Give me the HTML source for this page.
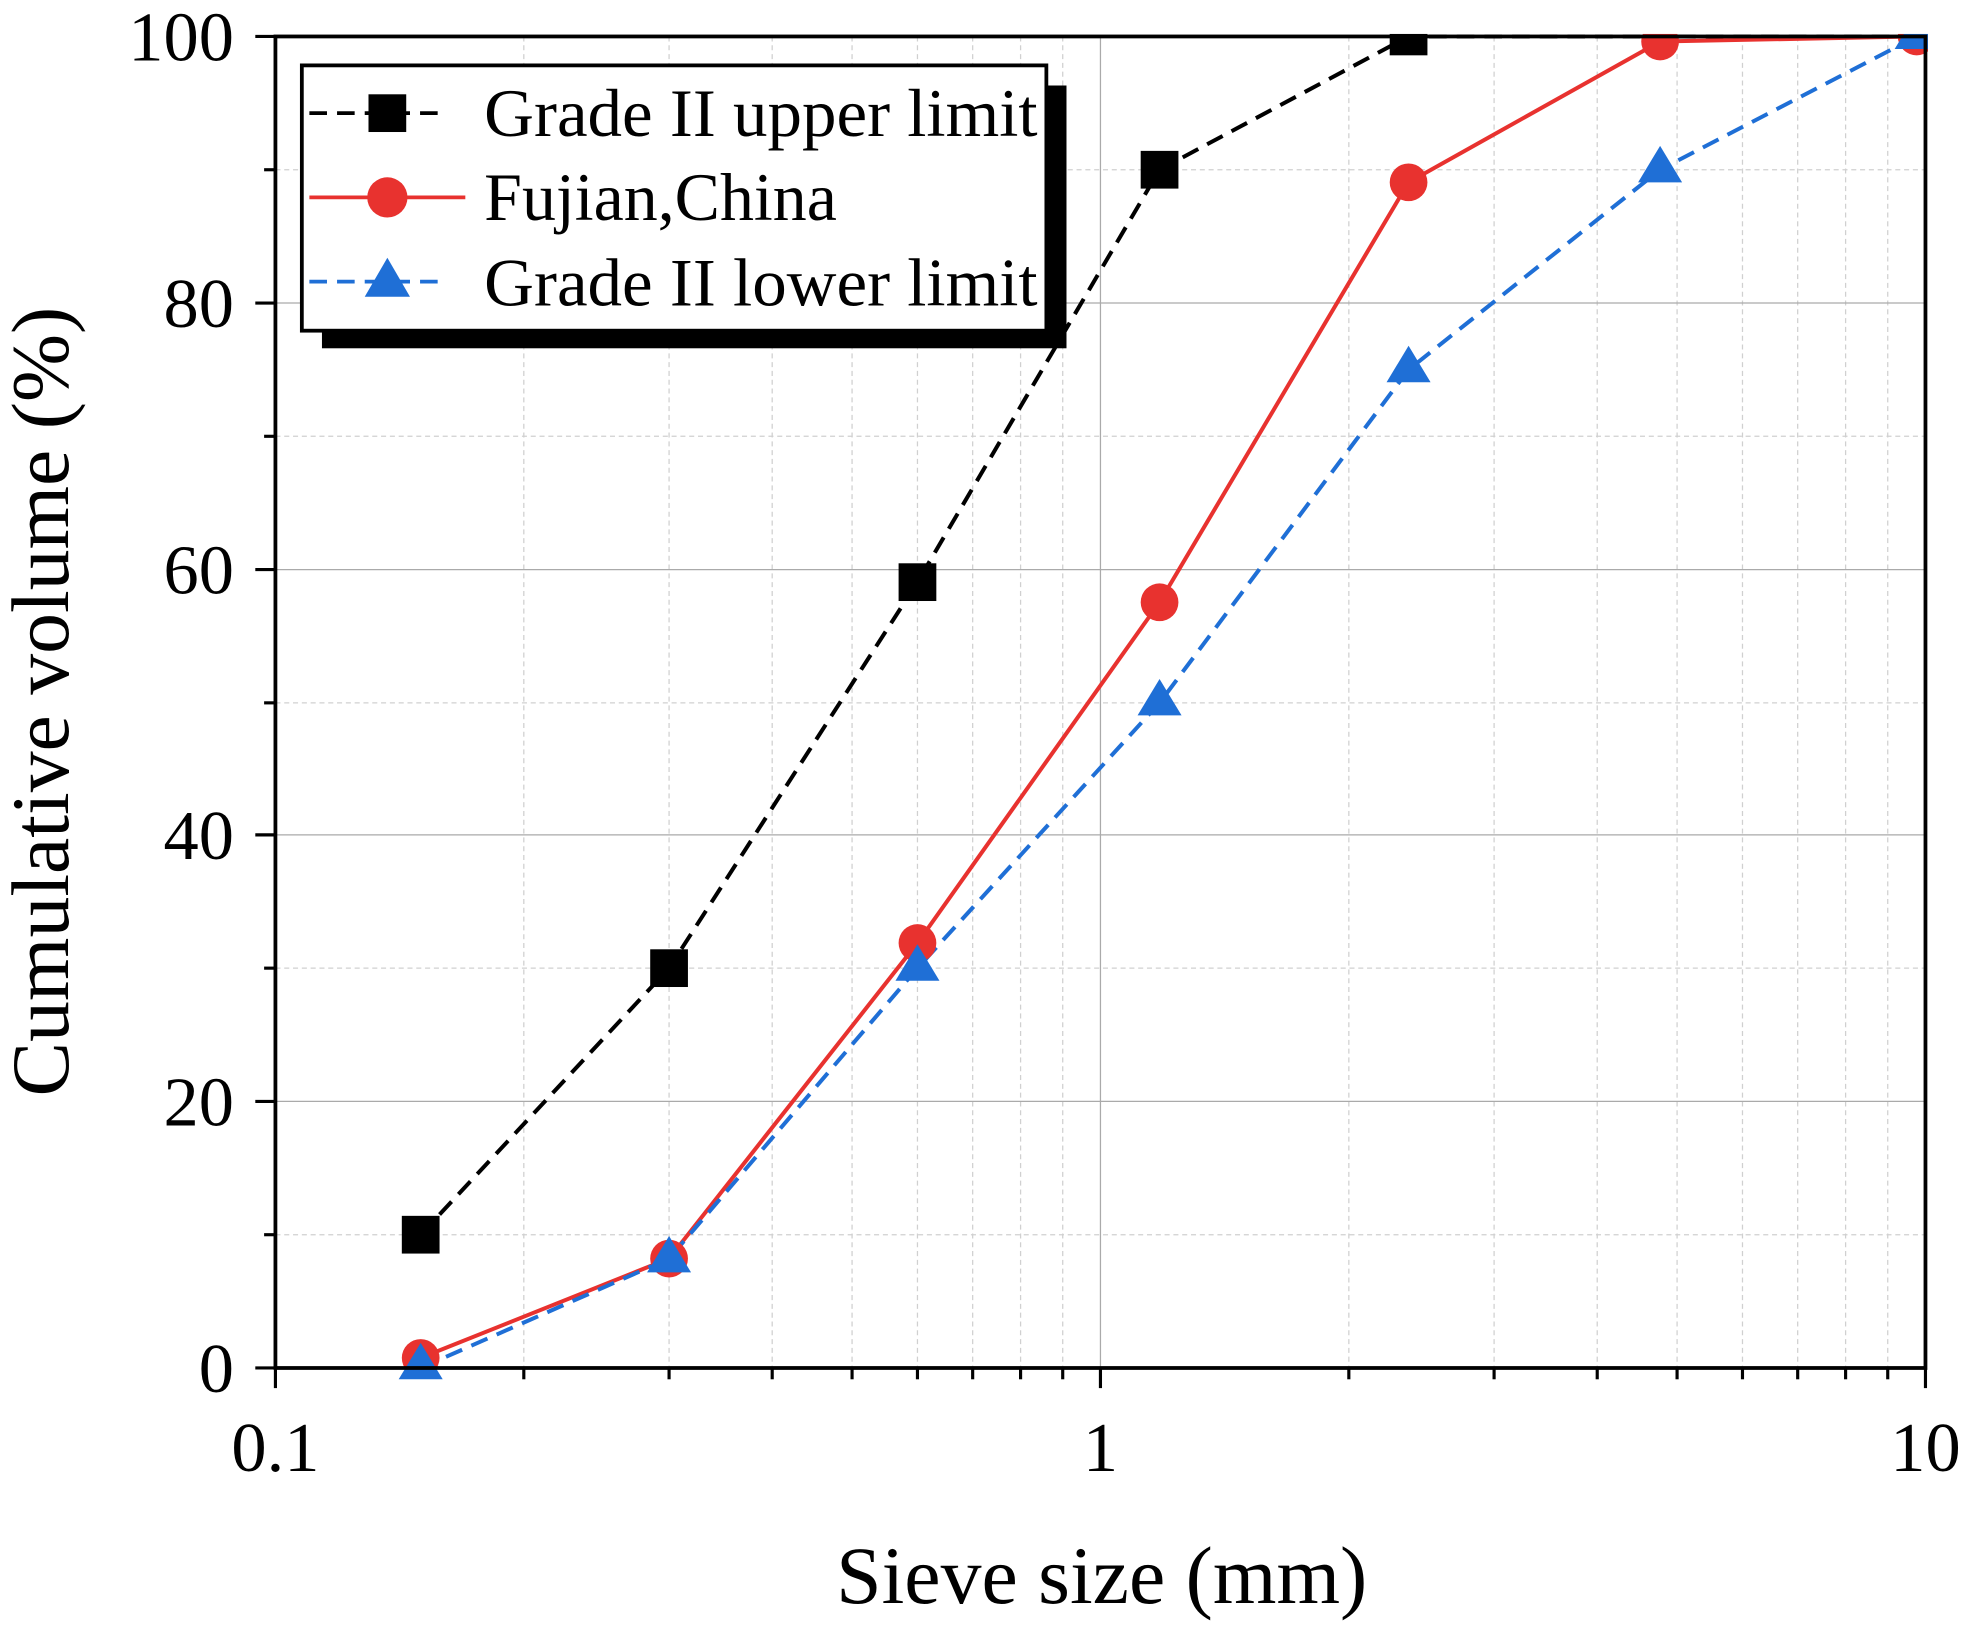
<!DOCTYPE html>
<html><head><style>html,body{margin:0;padding:0;background:#fff;}svg{display:block}</style></head>
<body>
<svg width="1972" height="1627" viewBox="0 0 1568 1294" preserveAspectRatio="none" xmlns="http://www.w3.org/2000/svg" font-family="Liberation Serif, serif">
<rect width="1568" height="1294" fill="#fff"/>
<g id="grid">
<g stroke="#d0d0d0" stroke-width="1" stroke-dasharray="4,3">
<line x1="219" x2="1531" y1="982" y2="982"/><line x1="219" x2="1531" y1="770" y2="770"/><line x1="219" x2="1531" y1="559" y2="559"/><line x1="219" x2="1531" y1="347" y2="347"/><line x1="219" x2="1531" y1="135" y2="135"/>
<line x1="416.5" x2="416.5" y1="29" y2="1088"/><line x1="532" x2="532" y1="29" y2="1088"/><line x1="614" x2="614" y1="29" y2="1088"/><line x1="677.5" x2="677.5" y1="29" y2="1088"/><line x1="729.5" x2="729.5" y1="29" y2="1088"/><line x1="773.4" x2="773.4" y1="29" y2="1088"/><line x1="811.5" x2="811.5" y1="29" y2="1088"/><line x1="845" x2="845" y1="29" y2="1088"/>
<line x1="1072.5" x2="1072.5" y1="29" y2="1088"/><line x1="1188" x2="1188" y1="29" y2="1088"/><line x1="1270" x2="1270" y1="29" y2="1088"/><line x1="1333.5" x2="1333.5" y1="29" y2="1088"/><line x1="1385.5" x2="1385.5" y1="29" y2="1088"/><line x1="1429.4" x2="1429.4" y1="29" y2="1088"/><line x1="1467.5" x2="1467.5" y1="29" y2="1088"/><line x1="1501" x2="1501" y1="29" y2="1088"/>
</g>
<g stroke="#aaa" stroke-width="1">
<line x1="219" x2="1531" y1="876" y2="876"/><line x1="219" x2="1531" y1="664" y2="664"/><line x1="219" x2="1531" y1="453" y2="453"/><line x1="219" x2="1531" y1="241" y2="241"/>
<line x1="875" x2="875" y1="29" y2="1088"/>
</g>
</g>
<polyline fill="none" stroke="#000" stroke-width="3.2" stroke-dasharray="14,8" points="334.5,982 532,770 729.5,463 922,135 1120,29 1320,29 1531,29"/>
<polyline fill="none" stroke="#e8322f" stroke-width="3.2" points="334.5,1080 532,1001 729.5,750 922,479 1120,145 1320,33 1524,29"/>
<polyline fill="none" stroke="#1f6fd6" stroke-width="3.2" stroke-dasharray="14,8" points="334.5,1088 532,1001 729.5,770 922,559 1120,294 1320,135 1524,29"/>
<g fill="#000">
<rect x="319.5" y="967" width="30" height="30"/><rect x="517" y="755" width="30" height="30"/><rect x="714.5" y="448" width="30" height="30"/><rect x="907" y="120" width="30" height="30"/><rect x="1105" y="14" width="30" height="30"/>
</g>
<g fill="#e8322f">
<circle cx="334.5" cy="1080" r="15"/><circle cx="532" cy="1001" r="15"/><circle cx="729.5" cy="750" r="15"/><circle cx="922" cy="479" r="15"/><circle cx="1120" cy="145" r="15"/><circle cx="1320" cy="33" r="15"/><circle cx="1524" cy="29" r="15"/>
</g>
<g fill="#1f6fd6">
<polygon points="334.5,1068 352,1097 317,1097"/><polygon points="532,983 549.5,1012 514.5,1012"/><polygon points="729.5,751 747,780 712,780"/><polygon points="922,540 939.5,569 904.5,569"/><polygon points="1120,275 1137.5,304 1102.5,304"/><polygon points="1320,116 1337.5,145 1302.5,145"/><polygon points="1524,10 1541.5,39 1506.5,39"/>
</g>
<rect x="1533" y="0" width="40" height="1294" fill="#fff"/>
<rect x="0" y="0" width="1568" height="27" fill="#fff"/>
<g stroke="#000" stroke-width="3" fill="none">
<rect x="219" y="29" width="1312" height="1059"/>
</g>
<g stroke="#000" stroke-width="2.5">
<line x1="219" x2="219" y1="1088" y2="1104"/><line x1="875" x2="875" y1="1088" y2="1104"/><line x1="1531" x2="1531" y1="1088" y2="1104"/>
<line x1="416.5" x2="416.5" y1="1088" y2="1097"/><line x1="532" x2="532" y1="1088" y2="1097"/><line x1="614" x2="614" y1="1088" y2="1097"/><line x1="677.5" x2="677.5" y1="1088" y2="1097"/><line x1="729.5" x2="729.5" y1="1088" y2="1097"/><line x1="773.4" x2="773.4" y1="1088" y2="1097"/><line x1="811.5" x2="811.5" y1="1088" y2="1097"/><line x1="845" x2="845" y1="1088" y2="1097"/>
<line x1="1072.5" x2="1072.5" y1="1088" y2="1097"/><line x1="1188" x2="1188" y1="1088" y2="1097"/><line x1="1270" x2="1270" y1="1088" y2="1097"/><line x1="1333.5" x2="1333.5" y1="1088" y2="1097"/><line x1="1385.5" x2="1385.5" y1="1088" y2="1097"/><line x1="1429.4" x2="1429.4" y1="1088" y2="1097"/><line x1="1467.5" x2="1467.5" y1="1088" y2="1097"/><line x1="1501" x2="1501" y1="1088" y2="1097"/>
<line x1="203" x2="219" y1="1088" y2="1088"/><line x1="203" x2="219" y1="876" y2="876"/><line x1="203" x2="219" y1="664" y2="664"/><line x1="203" x2="219" y1="453" y2="453"/><line x1="203" x2="219" y1="241" y2="241"/><line x1="203" x2="219" y1="29" y2="29"/>
<line x1="210" x2="219" y1="982" y2="982"/><line x1="210" x2="219" y1="770" y2="770"/><line x1="210" x2="219" y1="559" y2="559"/><line x1="210" x2="219" y1="347" y2="347"/><line x1="210" x2="219" y1="135" y2="135"/>
</g>
<g font-size="56" fill="#000">
<text x="186" y="1107" text-anchor="end">0</text>
<text x="186" y="895" text-anchor="end">20</text>
<text x="186" y="683" text-anchor="end">40</text>
<text x="186" y="472" text-anchor="end">60</text>
<text x="186" y="260" text-anchor="end">80</text>
<text x="186" y="48" text-anchor="end">100</text>
<text x="219" y="1170" text-anchor="middle">0.1</text>
<text x="875" y="1170" text-anchor="middle">1</text>
<text x="1531" y="1170" text-anchor="middle">10</text>
</g>
<text x="876" y="1275" font-size="65" text-anchor="middle">Sieve size (mm)</text>
<text transform="translate(54,558) rotate(-90)" font-size="65" text-anchor="middle">Cumulative volume (%)</text>
<rect x="256" y="68" width="592" height="209" fill="#000"/>
<rect x="240" y="52" width="592" height="211" fill="#fff" stroke="#000" stroke-width="3"/>
<line x1="246" x2="350" y1="90" y2="90" stroke="#000" stroke-width="3" stroke-dasharray="14,8"/>
<rect x="293" y="75" width="30" height="30" fill="#000"/>
<line x1="246" x2="370" y1="157" y2="157" stroke="#e8322f" stroke-width="3"/>
<circle cx="308" cy="157" r="16" fill="#e8322f"/>
<line x1="246" x2="350" y1="224" y2="224" stroke="#1f6fd6" stroke-width="3" stroke-dasharray="14,8"/>
<polygon points="308,205 326,236 290,236" fill="#1f6fd6"/>
<g font-size="54" fill="#000">
<text x="385" y="108" textLength="440" lengthAdjust="spacingAndGlyphs">Grade II upper limit</text>
<text x="385" y="175">Fujian,China</text>
<text x="385" y="243" textLength="440" lengthAdjust="spacingAndGlyphs">Grade II lower limit</text>
</g>
</svg>
</body></html>
